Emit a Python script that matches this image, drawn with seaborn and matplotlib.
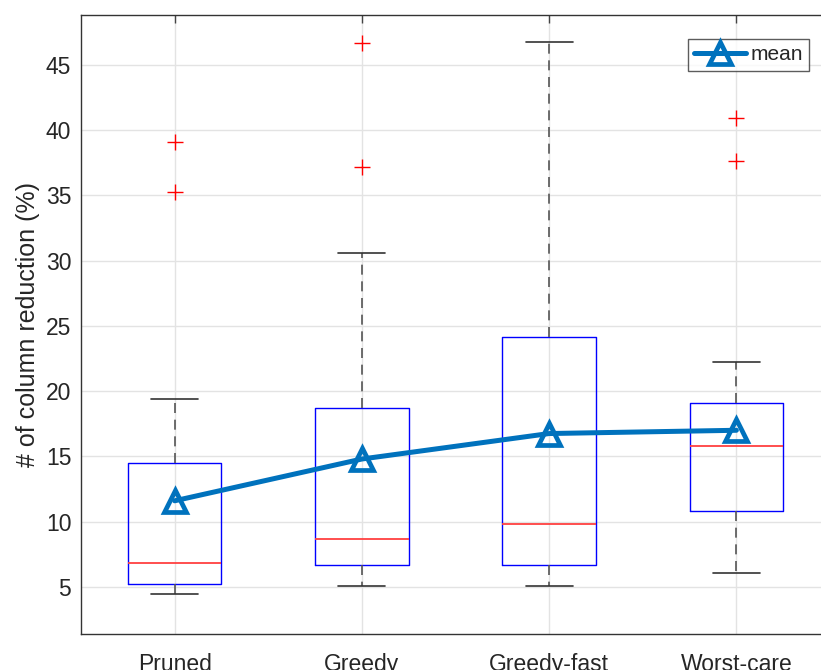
import numpy as np
import pandas as pd
import matplotlib
matplotlib.use("Agg")
import matplotlib.pyplot as plt
import seaborn as sns
from matplotlib.lines import Line2D

categories = ["Pruned", "Greedy", "Greedy-fast", "Worst-care"]
q1 = [5.23, 6.69, 6.69, 10.85]
medians = [6.82, 8.68, 9.80, 15.83]
q3 = [14.48, 18.74, 24.18, 19.12]
whisker_low = [4.46, 5.08, 5.08, 6.05]
whisker_high = [19.43, 30.57, 46.70, 22.24]
outliers = [[39.08, 35.25], [46.66, 37.13], [], [40.92, 37.64]]
means = [11.6, 14.8, 16.75, 17.0]
yticks = [5, 10, 15, 20, 25, 30, 35, 40, 45]

sns.set_style("white")
plt.rcParams["font.family"] = ["Liberation Sans", "DejaVu Sans"]

fig = plt.figure(figsize=(8.21, 6.70), dpi=100)
W, H = 821, 670
ax = fig.add_axes([81 / W, 36 / H, 749 / W, 619 / H])

positions = np.arange(1, len(categories) + 1)
stats = []
for i, c in enumerate(categories):
    stats.append(dict(label=c, q1=q1[i], med=medians[i], q3=q3[i],
                      whislo=whisker_low[i], whishi=whisker_high[i],
                      fliers=outliers[i]))

ax.bxp(stats, positions=positions, widths=0.5, showfliers=True,
       boxprops=dict(color=(0, 0, 1), linewidth=1.0),
       medianprops=dict(color=(1, 0.25, 0.25), linewidth=1.3),
       whiskerprops=dict(color="#555555", linewidth=1.2, linestyle=(0, (6, 4))),
       capprops=dict(color="#333333", linewidth=1.2),
       capwidths=0.25,
       flierprops=dict(marker="+", markeredgecolor="red", markersize=11,
                       markeredgewidth=1.0, linestyle="none"))

df = pd.DataFrame({"x": positions, "mean": means})
sns.lineplot(data=df, x="x", y="mean", ax=ax, color="#0072BD", linewidth=3.6,
             marker="^", markersize=16, markerfacecolor="none",
             markeredgecolor="#0072BD", markeredgewidth=3.4, zorder=5)

ax.set_xlim(0.5, 4.5)
ax.set_ylim(1.4, 48.8)
ax.set_xticks(positions)
ax.set_xticklabels(categories)
ax.set_yticks(yticks)
ax.set_xlabel("")
ax.set_ylabel("# of column reduction (%)", fontsize=18, color="#262626", labelpad=4)
ax.grid(True, color="#e3e3e3", linewidth=1.0)
ax.set_axisbelow(True)
ax.tick_params(axis="both", direction="in", length=6, width=1.0, color="#444444",
               labelsize=16.5, labelcolor="#262626", top=True, right=True)
ax.tick_params(axis="y", pad=7)
ax.tick_params(axis="x", pad=14)
for s in ax.spines.values():
    s.set_color("#333333")
    s.set_linewidth(1.0)
    s.set_visible(True)

handle = Line2D([0], [0], color="#0072BD", linewidth=3.6, marker="^",
                markersize=16, markerfacecolor="none", markeredgecolor="#0072BD",
                markeredgewidth=3.4)
leg = ax.legend([handle], ["mean"], loc="upper right", bbox_to_anchor=(0.9723, 0.961),
                fontsize=15, frameon=True, fancybox=False, edgecolor="#333333",
                handlelength=2.5, borderpad=0.3, handletextpad=0.2, borderaxespad=0)
leg.get_frame().set_linewidth(1.0)

fig.savefig("out.png", dpi=100)
